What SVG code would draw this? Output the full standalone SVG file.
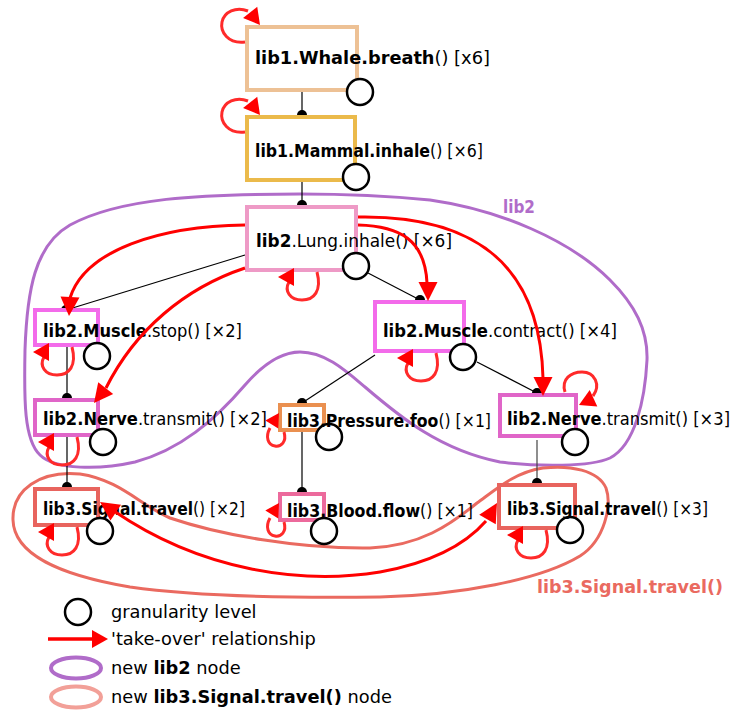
<svg xmlns="http://www.w3.org/2000/svg" width="734" height="711" viewBox="0 0 734 711">
<style>
.box{fill:#fff;stroke-width:4}
.gc{fill:#fff;stroke:#000;stroke-width:2.5}
.t{font-family:"DejaVu Sans",sans-serif;font-size:17.8px;fill:#000}
.c{font-family:"DejaVu Sans Condensed","DejaVu Sans",sans-serif;font-size:17px;fill:#000}
.b{font-weight:bold}
.e{stroke:#000;stroke-width:1.2;fill:none}
.dot{fill:#000}
.loop{fill:none;stroke:#ff2a2a;stroke-width:3}
.to{fill:none;stroke:#ff0000;stroke-width:3}
.ah{fill:#ff0000}
.blob{fill:none;stroke-width:3}
</style>
<defs>
<polygon id="ahL" points="0,0 -16,-9 -16,9"/>
<polygon id="ahT" points="0,0 -19,-9.5 -19,9.5"/>
</defs>
<g id="clusters">
<path class="blob" stroke="#b06cc9" d="M300,194 C200,194 120,198 70,225 C35,245 27,290 25,350 C24,400 24,440 40,455 C55,470 100,470 135,462 C180,450 215,420 245,385 C265,362 282,352 300,352 C325,352 345,370 365,387 C400,417 440,450 500,462 C540,467 590,467 610,458 C635,445 645,400 647,360 C648,330 635,305 610,280 C570,240 500,210 430,200 C390,196 340,194 300,194 Z"/>
<text class="c b" x="503" y="213" textLength="32" lengthAdjust="spacingAndGlyphs" style="fill:#b06cc9">lib2</text>
<path class="blob" stroke="#ea6a60" d="M370,548 C300,549 220,535 170,518 C140,505 120,480 80,474 C40,470 12,490 13,520 C14,555 60,575 130,587 C200,597 300,598 380,597 C460,595 540,580 580,556 C605,540 612,505 606,488 C598,470 570,465 543,468 C515,472 495,490 477,503 C450,525 420,546 370,548 Z"/>
<text class="c b" x="537" y="593" textLength="186" lengthAdjust="spacingAndGlyphs" style="fill:#ea6a60">lib3.Signal.travel()</text>
</g>
<g id="edges">
<path class="e" d="M302,92 L302,115"/><circle class="dot" cx="302" cy="115" r="5"/>
<path class="e" d="M302,182 L302,205"/><circle class="dot" cx="302" cy="205" r="5"/>
<path class="e" d="M245,255 L66,310"/><circle class="dot" cx="66" cy="310" r="5"/>
<path class="e" d="M368,273 L420,300"/><circle class="dot" cx="420" cy="300" r="5"/>
<path class="e" d="M67,347 L67,398"/><circle class="dot" cx="67" cy="398" r="5"/>
<path class="e" d="M375,355 L302,403"/><circle class="dot" cx="302" cy="403" r="5"/>
<path class="e" d="M477,362 L537,393"/><circle class="dot" cx="537" cy="393" r="5"/>
<path class="e" d="M67,437 L67,487"/><circle class="dot" cx="67" cy="487" r="5"/>
<path class="e" d="M302,432 L302,492"/><circle class="dot" cx="302" cy="492" r="5"/>
<path class="e" d="M537,440 L537,483" style="stroke:#444"/><circle class="dot" cx="537" cy="483" r="5"/>
</g>
<g id="n_whale">
<rect class="box" x="247" y="27" width="110" height="63" stroke="#edc195"/>
<circle class="gc" cx="360" cy="92" r="13"/>
<text class="t b" x="255" y="64" textLength="179.5" lengthAdjust="spacingAndGlyphs">lib1.Whale.breath</text>
<text class="t" x="434.5" y="64" textLength="55.5" lengthAdjust="spacingAndGlyphs">() [x6]</text>
</g>
<g id="n_mammal">
<rect class="box" x="247" y="117" width="108" height="63" stroke="#ebba4b"/>
<circle class="gc" cx="356" cy="177" r="13"/>
<text class="c b" x="255" y="157" textLength="175" lengthAdjust="spacingAndGlyphs">lib1.Mammal.inhale</text>
<text class="c" x="430" y="157" textLength="53" lengthAdjust="spacingAndGlyphs">() [×6]</text>
</g>
<g id="n_lung">
<rect class="box" x="247" y="207" width="109" height="63" stroke="#ee9ac6"/>
<circle class="gc" cx="356" cy="266" r="13"/>
<text class="c b" x="256" y="247" textLength="35.4" lengthAdjust="spacingAndGlyphs">lib2</text>
<text class="c" x="291.4" y="247" textLength="160.6" lengthAdjust="spacingAndGlyphs">.Lung.inhale() [×6]</text>
</g>
<g id="n_muscle_stop">
<rect class="box" x="35" y="310" width="63" height="35" stroke="#f36bea"/>
<circle class="gc" cx="97" cy="356" r="13"/>
<text class="c b" x="43" y="337" textLength="103.9" lengthAdjust="spacingAndGlyphs">lib2.Muscle</text>
<text class="c" x="146.9" y="337" textLength="95.1" lengthAdjust="spacingAndGlyphs">.stop() [×2]</text>
</g>
<g id="n_nerve_l">
<rect class="box" x="35" y="400" width="63" height="35" stroke="#e065c8"/>
<circle class="gc" cx="103" cy="442" r="13"/>
<text class="c b" x="43" y="425" textLength="94.9" lengthAdjust="spacingAndGlyphs">lib2.Nerve</text>
<text class="c" x="137.9" y="425" textLength="129.1" lengthAdjust="spacingAndGlyphs">.transmit() [×2]</text>
</g>
<g id="n_pressure">
<rect class="box" x="280" y="405" width="44" height="25" stroke="#ea9050"/>
<circle class="gc" cx="329" cy="437" r="13"/>
<text class="c b" x="287" y="427" textLength="151.4" lengthAdjust="spacingAndGlyphs">lib3.Pressure.foo</text>
<text class="c" x="438.4" y="427" textLength="52.6" lengthAdjust="spacingAndGlyphs">() [×1]</text>
</g>
<g id="n_blood">
<rect class="box" x="280" y="494" width="44" height="26" stroke="#ec6a9c"/>
<circle class="gc" cx="324" cy="531" r="13"/>
<text class="c b" x="287" y="517" textLength="133.1" lengthAdjust="spacingAndGlyphs">lib3.Blood.flow</text>
<text class="c" x="420.1" y="517" textLength="52.9" lengthAdjust="spacingAndGlyphs">() [×1]</text>
</g>
<g id="n_muscle_contract">
<rect class="box" x="375" y="302" width="89" height="49" stroke="#f36bea"/>
<circle class="gc" cx="463" cy="357" r="13"/>
<text class="c b" x="383" y="337" textLength="105" lengthAdjust="spacingAndGlyphs">lib2.Muscle</text>
<text class="c" x="488" y="337" textLength="129" lengthAdjust="spacingAndGlyphs">.contract() [×4]</text>
</g>
<g id="n_nerve_r">
<rect class="box" x="500" y="395" width="76" height="41" stroke="#e065c8"/>
<circle class="gc" cx="575" cy="442" r="13"/>
<text class="c b" x="507" y="425" textLength="94.5" lengthAdjust="spacingAndGlyphs">lib2.Nerve</text>
<text class="c" x="601.5" y="425" textLength="128.5" lengthAdjust="spacingAndGlyphs">.transmit() [×3]</text>
</g>
<g id="n_signal_l">
<rect class="box" x="35" y="489" width="63" height="36" stroke="#e8645e"/>
<circle class="gc" cx="100" cy="531" r="13"/>
<text class="c b" x="43" y="515" textLength="150" lengthAdjust="spacingAndGlyphs">lib3.Signal.travel</text>
<text class="c" x="193" y="515" textLength="52" lengthAdjust="spacingAndGlyphs">() [×2]</text>
</g>
<g id="n_signal_r">
<rect class="box" x="499" y="485" width="76" height="43" stroke="#e8645e"/>
<circle class="gc" cx="570" cy="530" r="13"/>
<text class="c b" x="507" y="515" textLength="149.2" lengthAdjust="spacingAndGlyphs">lib3.Signal.travel</text>
<text class="c" x="656.2" y="515" textLength="51.8" lengthAdjust="spacingAndGlyphs">() [×3]</text>
</g>
<g id="takeover">
<path class="loop" d="M245,42 C228,44 220,32 222,22 C224,12 236,6 248,11"/>
<use href="#ahL" class="ah" transform="translate(260,25) rotate(52)"/>
<path class="loop" d="M245,132 C228,134 220,122 222,112 C224,102 236,96 248,101"/>
<use href="#ahL" class="ah" transform="translate(260,115) rotate(52)"/>
<path class="loop" d="M317,272 C322,291 314,300 302,300 C290,300 284,291 289,282"/>
<use href="#ahL" class="ah" transform="translate(278,277) rotate(180)"/>
<path class="loop" d="M72,347 C77,366 69,375 57,375 C45,375 39,366 44,357"/>
<use href="#ahL" class="ah" transform="translate(33,352) rotate(180)"/>
<path class="loop" d="M77,437 C82,456 74,465 62,465 C50,465 44,456 49,447"/>
<use href="#ahL" class="ah" transform="translate(38,442) rotate(180)"/>
<path class="loop" d="M436,353 C441,372 433,381 421,381 C409,381 403,372 408,363"/>
<use href="#ahL" class="ah" transform="translate(397,358) rotate(180)"/>
<path class="loop" d="M77,527 C82,546 74,555 62,555 C50,555 44,546 49,537"/>
<use href="#ahL" class="ah" transform="translate(38,532) rotate(180)"/>
<path class="loop" d="M546,530 C551,549 543,558 531,558 C519,558 513,549 518,540"/>
<use href="#ahL" class="ah" transform="translate(507,535) rotate(180)"/>
<path class="loop" d="M284,432 C287,442 281,447 275,446 C268,445 265,437 270,428"/>
<use href="#ahL" class="ah" transform="translate(279,413) rotate(-58) scale(0.85)"/>
<path class="loop" d="M284,522 C287,532 281,537 275,536 C268,535 265,527 270,518"/>
<use href="#ahL" class="ah" transform="translate(279,503) rotate(-58) scale(0.85)"/>
<path class="loop" d="M565,392 C561,379 571,372 582,372 C595,372 601,385 593,396"/>
<use href="#ahL" class="ah" transform="translate(579,405) rotate(155)"/>
<path class="to" d="M245,225 C160,226 85,250 70,298"/>
<use href="#ahT" class="ah" transform="translate(69,316) rotate(93)"/>
<path class="to" d="M245,268 C185,288 135,330 106,388"/>
<use href="#ahT" class="ah" transform="translate(94,403) rotate(128)"/>
<path class="to" d="M358,225 C400,226 425,240 427,283"/>
<use href="#ahT" class="ah" transform="translate(428,301) rotate(90)"/>
<path class="to" d="M358,217 C470,215 540,260 543,378"/>
<use href="#ahT" class="ah" transform="translate(543,396) rotate(90)"/>
<path class="to" d="M114,511 C200,570 300,585 380,572 C430,563 465,545 486,521"/>
<use href="#ahT" class="ah" transform="translate(497,503) rotate(-60)"/>
<use href="#ahT" class="ah" transform="translate(100,502) rotate(214)"/>
</g>
<g id="legend">
<circle class="gc" cx="78" cy="612" r="13"/>
<text class="t" x="111" y="618">granularity level</text>
<path class="to" d="M48,639 L92,639" style="stroke-width:3.5"/>
<use href="#ahL" class="ah" transform="translate(108,639)"/>
<text class="t" x="111" y="645">'take-over' relationship</text>
<ellipse cx="76" cy="668" rx="25" ry="10.5" fill="none" stroke="#b06cc9" stroke-width="4"/>
<text class="t" x="111" y="674">new <tspan class="b">lib2</tspan> node</text>
<ellipse cx="76" cy="697" rx="25" ry="10.5" fill="none" stroke="#f2a098" stroke-width="4"/>
<text class="t" x="111" y="703">new <tspan class="b">lib3.Signal.travel()</tspan> node</text>
</g>
</svg>
